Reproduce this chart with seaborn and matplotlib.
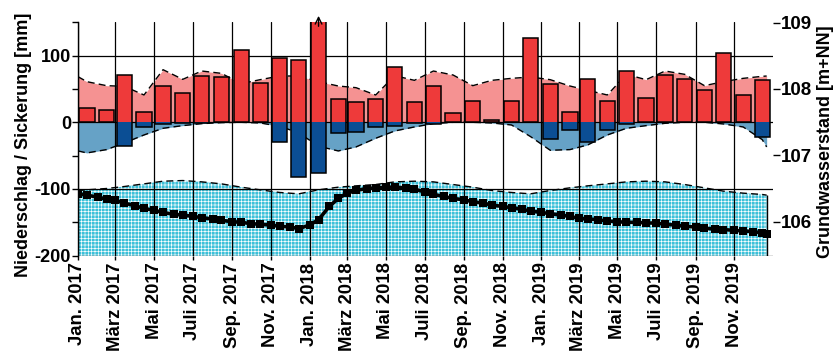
import numpy as np
import pandas as pd
import matplotlib
matplotlib.use("Agg")
import matplotlib.pyplot as plt
import matplotlib.dates as mdates
import seaborn as sns

# Monthly precipitation (up) and seepage (down), mm, Jan 2017 - Dec 2019
niederschlag = [21, 19, 71.5, 16, 54.5, 44.5, 69.5, 68.5, 109, 59.5, 96, 93,
                165, 35.5, 31, 35.5, 83.5, 31, 54.5, 13.5, 31.5, 4, 32.5, 127,
                58, 15.5, 65.5, 31.5, 77, 37, 71, 65.5, 48, 103.5, 40.5, 63]
sickerung = [0, 0, -35.5, -7.5, -3, -1, -1.5, 0, 0, 0, -30, -81.5,
             -76.5, -16.5, -14.5, -6.5, -5, -1.5, -2, 0, 0, 0, 0, 0,
             -25, -11.5, -30, -11, -3, 0, 0, 0, 0, 0, 0, -21.5]

# Long-term mean precipitation / seepage (mid-month), with values at both ends
ns_mittel = [68.5,
             61, 55, 54, 41, 79, 64.5, 77, 73.5, 58, 64, 69.5, 69.5,
             61, 54.5, 52, 41, 70, 63, 77, 71, 55, 63, 66, 68,
             64, 54.5, 48, 41, 72, 64, 77, 72, 55, 61, 66, 69,
             69.5]
si_mittel = [-43,
             -46, -41, -31, -19, -9, -5, -2, -0.5, 0, -1, -6, -16,
             -36, -43, -37, -24, -13, -7, -2, 0, 0, -1, -4, -21.5,
             -42, -41, -34, -19, -9, -5, -1.5, 0, 0, -2.5, -7, -26,
             -37]

# Long-term mean groundwater level (m+NN), mid-month, with values at both ends
gw_mittel = [106.47,
             106.48, 106.50, 106.53, 106.57, 106.61, 106.62, 106.60, 106.57, 106.52, 106.48, 106.44, 106.42,
             106.48, 106.52, 106.54, 106.56, 106.60, 106.61, 106.60, 106.56, 106.52, 106.47, 106.44, 106.42,
             106.47, 106.51, 106.54, 106.57, 106.60, 106.61, 106.60, 106.56, 106.51, 106.46, 106.43, 106.41,
             106.40]

# Measured groundwater level (m+NN), on the 1st and 15th of each month, last on 22 Dec 2019
grundwasser = [106.42, 106.40, 106.37, 106.34, 106.32, 106.28, 106.24, 106.20,
               106.17, 106.14, 106.11, 106.10, 106.08, 106.06, 106.04, 106.02,
               106.00, 105.99, 105.97, 105.96, 105.95, 105.93, 105.92, 105.895,
               105.95, 106.03, 106.23, 106.35, 106.43, 106.47, 106.50, 106.51,
               106.52, 106.52, 106.51, 106.49, 106.45, 106.41, 106.38, 106.35,
               106.33, 106.30, 106.28, 106.25, 106.23, 106.21, 106.19, 106.16,
               106.14, 106.12, 106.10, 106.08, 106.05, 106.04, 106.03, 106.01,
               106.00, 105.99, 105.99, 105.98, 105.98, 105.96, 105.95, 105.93,
               105.92, 105.90, 105.89, 105.88, 105.87, 105.86, 105.85, 105.83,
               105.82]

tick_labels = ["Jan. 2017", "März 2017", "Mai 2017", "Juli 2017", "Sep. 2017", "Nov. 2017",
               "Jan. 2018", "März 2018", "Mai 2018", "Juli 2018", "Sep. 2018", "Nov. 2018",
               "Jan. 2019", "März 2019", "Mai 2019", "Juli 2019", "Sep. 2019", "Nov. 2019"]

# ---- positions on the time axis -------------------------------------------
months = pd.date_range("2017-01-01", periods=36, freq="MS")
end_day = pd.Timestamp("2019-12-22")
bar_left = mdates.date2num(months + pd.Timedelta(days=2))
env_x = mdates.date2num(pd.DatetimeIndex([months[0]] + list(months + pd.Timedelta(days=14)) + [end_day]))
gw_days = []
for m in months:
    gw_days += [m, m + pd.Timedelta(days=14)]
gw_days.append(end_day)
gw_x = mdates.date2num(pd.DatetimeIndex(gw_days))
tick_x = mdates.date2num(months[::2])

sns.set_theme(style="white")
plt.rcParams["font.family"] = ["Liberation Sans", "DejaVu Sans"]
plt.rcParams["font.weight"] = "bold"
plt.rcParams["axes.unicode_minus"] = False
plt.rcParams["hatch.linewidth"] = 0.45
for key in ("text.color", "axes.labelcolor", "xtick.color", "ytick.color"):
    plt.rcParams[key] = "black"

RED = "#ee3a3a"
LIGHT_RED = "#f59292"
BLUE = "#0b4e94"
LIGHT_BLUE = "#66a2c6"
CYAN = "#3cc0d8"

fig = plt.figure(figsize=(8.37, 3.54), dpi=100)
ax = fig.add_axes([78 / 837, 1 - 255.5 / 354, 695 / 837, 233.5 / 354])
ax2 = ax.twinx()
ax.set_zorder(ax2.get_zorder() + 1)
ax.patch.set_visible(False)

# ---- groundwater (right axis) ----------------------------------------------
ax2.fill_between(env_x, 105.0, gw_mittel, facecolor=CYAN, edgecolor="white",
                 hatch="+++++", linewidth=0, zorder=1)
sns.lineplot(x=env_x, y=gw_mittel, ax=ax2, color="black", linewidth=1.0,
             linestyle=(0, (5, 3)), sort=False, zorder=2)
ax2.vlines(env_x[-1], 105.0, gw_mittel[-1], color="black", linewidth=1.0, zorder=2)
sns.lineplot(x=gw_x, y=grundwasser, ax=ax2, color="black", linewidth=2.6,
             marker="s", markersize=5.5, markeredgewidth=0, sort=False, zorder=3)
ax2.set_ylim(105.49, 109.01)
ax2.set_yticks([106, 107, 108, 109])
ax2.tick_params(axis="y", right=True, direction="out", length=5, width=1,
                color="black", labelsize=13.5, pad=1)
for s in ax2.spines.values():
    s.set_visible(False)
ax2.set_ylabel("")

# ---- precipitation / seepage (left axis) -----------------------------------
ax.fill_between(env_x, 0, ns_mittel, color=LIGHT_RED, linewidth=0, zorder=1)
ax.fill_between(env_x, si_mittel, 0, color=LIGHT_BLUE, linewidth=0, zorder=1)
sns.lineplot(x=env_x, y=ns_mittel, ax=ax, color="black", linewidth=1.0,
             linestyle=(0, (5, 3)), sort=False, zorder=2)
sns.lineplot(x=env_x, y=si_mittel, ax=ax, color="black", linewidth=1.0,
             linestyle=(0, (5, 3)), sort=False, zorder=2)

ns = np.array(niederschlag)
si = np.array(sickerung)
ax.bar(bar_left, ns, width=24, align="edge", color=RED, linewidth=0, zorder=3)
ax.bar(bar_left, si, width=24, align="edge", color=BLUE, linewidth=0, zorder=3)
ax.bar(bar_left, ns - si, bottom=si, width=24, align="edge", fill=False,
       edgecolor="black", linewidth=1.1, zorder=4)

# off-scale month marker
i_max = int(np.argmax(ns))
ax.annotate("", xy=(bar_left[i_max] + 12, 164), xytext=(bar_left[i_max] + 12, 140),
            arrowprops=dict(arrowstyle="->", color="black", lw=1),
            annotation_clip=False, zorder=6)

ax.set_xlim(mdates.date2num(pd.Timestamp("2017-01-01")),
            mdates.date2num(pd.Timestamp("2020-01-01")))
ax.set_ylim(-200, 150.6)
ax.set_yticks([-200, -100, 0, 100])
ax.set_yticks([-150, -50, 50, 150], minor=True)
ax.set_xticks(tick_x)
ax.set_xticklabels(tick_labels, rotation=90)
ax.set_axisbelow("line")
ax.grid(True, which="major", color="black", linewidth=0.9)
ax.tick_params(axis="x", bottom=True, direction="out", length=3, width=1,
               color="black", labelsize=13.3, pad=2)
ax.tick_params(axis="y", which="both", left=True, direction="out", length=4,
               width=1, color="black", labelsize=13, pad=1)
for name, s in ax.spines.items():
    s.set_visible(name == "left")
ax.spines["left"].set_color("black")
ax.spines["left"].set_linewidth(1)
ax.set_xlabel("")
ax.set_ylabel("")

fig.text(24 / 837, 1 - 145 / 354, "Niederschlag / Sickerung [mm]", rotation=90,
         ha="center", va="center", fontsize=13, fontweight="bold")
fig.text(826 / 837, 1 - 142 / 354, "Grundwasserstand [m+NN]", rotation=90,
         ha="center", va="center", fontsize=13, fontweight="bold")

fig.savefig("out.png", dpi=100)
